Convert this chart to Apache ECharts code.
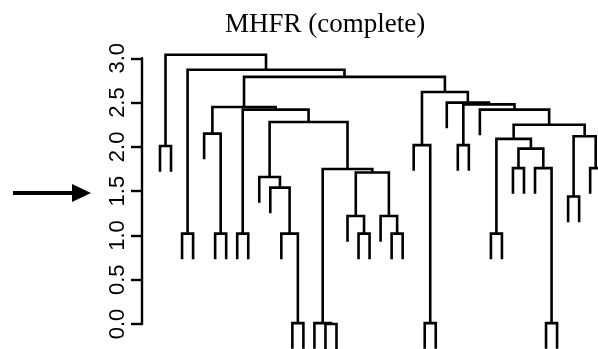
<!DOCTYPE html>
<html>
<head>
<meta charset="UTF-8">
<title>MHFR (complete)</title>
<script src="https://cdn.jsdelivr.net/npm/echarts@6/dist/echarts.min.js"></script>
<style>html,body{margin:0;padding:0;background:#fff}</style>
</head>
<body>
<div id="main" style="width:598px;height:349px"></div>
<script>
// merge table like hclust: negative = leaf -(i+1) (i = position in leaf order), positive = earlier merge row (1-based)
var mergeA = [-16, -15, -13, -25, -36, -3, -6, -8, -12, -19, -22, -31, -18, -21, -38, -11, -10, 13, 2, -33,
              -35, -40, 20, -1, -24, -28, 12, 15, -5, 27, 17, 8, -30, 29, 26, -27, 25, 34, 6, 24]
var mergeB = [-17, 1, -14, -26, -37, -4, -7, -9, 3, -20, -23, -32, 10, 11, -39, 9, 16, 14, 18, -34,
              5, -41, 21, -2, 4, -29, 23, 22, 7, 28, 19, 31, 30, 32, 33, 35, 36, 37, 38, 39]
var mergeHeight = [0.00, 0.01, 0.01, 0.01, 0.01, 1.02, 1.02, 1.02, 1.02, 1.02, 1.02, 1.02, 1.22, 1.22, 1.44, 1.54, 1.66, 1.71, 1.75, 1.76,
                   1.76, 1.76, 1.98, 2.01, 2.02, 2.02, 2.09, 2.12, 2.15, 2.25, 2.28, 2.42, 2.42, 2.45, 2.48, 2.50, 2.62, 2.79, 2.87, 3.04]
var hang = 0.29
var arrowAt = 1.48

// x of each merge = midpoint of its two children
var nodeX = []
function childX(c) { return c < 0 ? -c - 1 : nodeX[c - 1] }
function childTop(c, h) { return c < 0 ? h - hang : mergeHeight[c - 1] }
for (var k = 0; k < mergeA.length; k++) {
	nodeX.push((childX(mergeA[k]) + childX(mergeB[k])) / 2)
}

var data = []
for (var k = 0; k < mergeA.length; k++) data.push([nodeX[k], mergeHeight[k], k])

var myChart = echarts.init(document.getElementById('main'))
var option = {
	animation: false,
	title: {
		text: 'MHFR (complete)',
		left: 225, top: 11, padding: 0,
		textStyle: { fontFamily: 'Liberation Serif', fontSize: 27, fontWeight: 'normal', color: '#000' }
	},
	grid: { left: 142, right: 0, top: 58.3, bottom: 25 },
	xAxis: { type: 'value', min: -1.632, max: 39.71, show: false },
	yAxis: {
		type: 'value', min: 0, max: 3, interval: 0.5,
		axisLine: { show: true, onZero: false, lineStyle: { color: '#000', width: 2.4 } },
		axisTick: { show: true, length: 11, lineStyle: { color: '#000', width: 2.4 } },
		splitLine: { show: false },
		axisLabel: {
			rotate: 90, margin: 13, color: '#000',
			fontFamily: 'Liberation Sans', fontSize: 22,
			formatter: function (v) { return v.toFixed(1) }
		}
	},
	series: [{
		type: 'custom',
		clip: false,
		data: data,
		renderItem: function (params, api) {
			var k = api.value(2)
			var h = mergeHeight[k]
			var a = mergeA[k], b = mergeB[k]
			var xa = childX(a), xb = childX(b)
			var pts = [
				api.coord([xa, childTop(a, h)]),
				api.coord([xa, h]),
				api.coord([xb, h]),
				api.coord([xb, childTop(b, h)])
			]
			return {
				type: 'polyline',
				shape: { points: pts },
				style: { stroke: '#000', lineWidth: 2.6, fill: null }
			}
		}
	}]
}
myChart.setOption(option)

// arrow pointing at the cut height
var ay = myChart.convertToPixel({ yAxisIndex: 0 }, arrowAt)
myChart.setOption({
	graphic: [
		{ type: 'line', shape: { x1: 13, y1: ay, x2: 76, y2: ay }, style: { stroke: '#000', lineWidth: 4 } },
		{ type: 'polygon', shape: { points: [[72, ay - 9], [91, ay], [72, ay + 9]] }, style: { fill: '#000' } }
	]
})
</script>
</body>
</html>
